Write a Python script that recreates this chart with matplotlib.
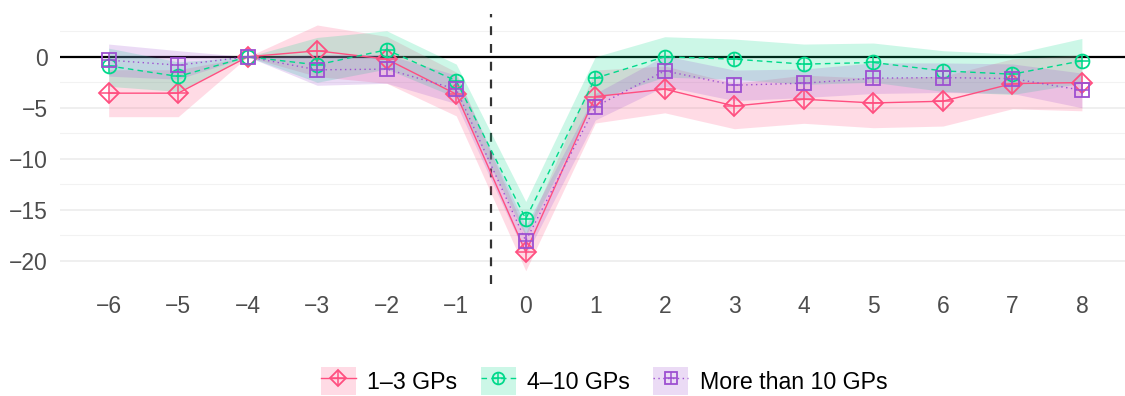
import numpy as np
import matplotlib.pyplot as plt
from matplotlib.patches import Patch
from matplotlib.lines import Line2D

plt.rcParams['font.family'] = ['Liberation Sans', 'DejaVu Sans']

periods = [-6, -5, -4, -3, -2, -1, 0, 1, 2, 3, 4, 5, 6, 7, 8]

# 1-3 GPs
small_est = [-3.57, -3.57, 0, 0.59, -0.23, -3.67, -19.17, -3.9, -3.18, -4.83, -4.17, -4.53, -4.36, -2.63, -2.53]
small_lo = [-5.88, -5.88, 0, -1.94, -2.6, -5.8, -21.0, -6.5, -5.5, -7.06, -6.53, -6.96, -6.8, -5.1, -5.3]
small_hi = [-1.27, -1.27, 0, 3.12, 2.0, -1.5, -17.3, -1.3, -0.9, -2.6, -1.8, -2.1, -1.9, -0.2, 0.2]

# 4-10 GPs
mid_est = [-0.89, -1.93, 0, -0.79, 0.69, -2.36, -15.9, -2.1, 0.0, -0.23, -0.72, -0.56, -1.38, -1.71, -0.39]
mid_lo = [-2.9, -3.4, 0, -2.5, -1.2, -4.0, -17.6, -4.2, -2.0, -2.2, -2.7, -2.5, -3.4, -3.7, -2.6]
mid_hi = [0.85, -0.5, 0, 1.9, 2.55, -0.72, -14.2, 0.0, 1.97, 1.74, 1.25, 1.35, 0.6, 0.27, 1.8]

# More than 10 GPs
large_est = [-0.33, -0.82, 0, -1.28, -1.21, -3.18, -18.06, -4.9, -1.38, -2.79, -2.59, -2.1, -2.04, -2.14, -3.28]
large_lo = [-1.9, -2.2, 0, -2.8, -2.6, -4.6, -19.5, -6.2, -2.9, -4.3, -4.0, -3.6, -3.5, -3.6, -5.0]
large_hi = [1.25, 0.6, 0, 0.2, 0.2, -1.8, -16.6, -3.6, 0.1, -1.3, -1.2, -0.6, -0.6, -0.7, -1.6]

labels = ['1\u20133 GPs', '4\u201310 GPs', 'More than 10 GPs']
colors = ['#FF4F80', '#00D98B', '#9D4FD1']
styles = ['-', (0, (4, 3)), (0, (1, 2.5))]
# (shape, shape size, plus size) in points
markers = [('D', 10, 14.2), ('o', 10, 10), ('s', 9.5, 9.5)]

series = [(small_est, small_lo, small_hi),
          (mid_est, mid_lo, mid_hi),
          (large_est, large_lo, large_hi)]

fig = plt.figure(figsize=(11.25, 3.96), dpi=100)
ax = fig.add_axes([60 / 1125, 1 - 284 / 396, 1 - 60 / 1125, 270 / 396])

ax.set_yticks([-20, -15, -10, -5, 0])
ax.set_yticks(np.arange(-22.5, 5, 2.5), minor=True)
ax.grid(axis='y', which='major', color='#EBEBEB', lw=1.1)
ax.grid(axis='y', which='minor', color='#F2F2F2', lw=0.8)
ax.set_axisbelow(True)

ax.axhline(0, color='black', lw=1.6, zorder=1)
ax.axvline(-0.5, color='#333333', lw=1.6, ls=(0, (4, 4)), zorder=1)

for (est, lo, hi), c in zip(series, colors):
    ax.fill_between(periods, lo, hi, color=c, alpha=0.2, lw=0, zorder=2)

handles = []
for (est, lo, hi), c, ls, (m, ms, ps), lab in zip(series, colors, styles, markers, labels):
    ax.plot(periods, est, color=c, ls=ls, lw=1, marker=m, ms=ms,
            mfc='none', mec=c, mew=1.3, zorder=3)
    ax.plot(periods, est, ls='none', marker='+', ms=ps, mec=c, mew=1.1, zorder=3)
    handles.append((Patch(facecolor=c, alpha=0.2, lw=0),
                    Line2D([], [], color=c, ls=ls, lw=1, marker=m, ms=ms * 0.85,
                           mfc='none', mec=c, mew=1.3),
                    Line2D([], [], ls='none', marker='+', ms=ps * 0.85, mec=c, mew=1.1)))

ax.set_xticks(periods)
ax.set_xlim(-6.7, 8.62)
ax.set_ylim(-22.3, 4.2)
ax.tick_params(which='both', length=0, labelsize=16.5, labelcolor='#4D4D4D', pad=9)
ax.tick_params(axis='x', pad=8)
for s in ax.spines.values():
    s.set_visible(False)
ax.set_yticklabels(['\u221220', '\u221215', '\u221210', '\u22125', '0'])
ax.set_xticklabels([str(p).replace('-', '\u2212') for p in periods])

fig.legend(handles, labels, loc='center', bbox_to_anchor=(0.537, 0.037), ncol=3,
           frameon=False, fontsize=16.7, handlelength=1.5, handleheight=1.5,
           handletextpad=0.5, columnspacing=1.0, borderpad=0)

fig.savefig('out.png', dpi=100)
